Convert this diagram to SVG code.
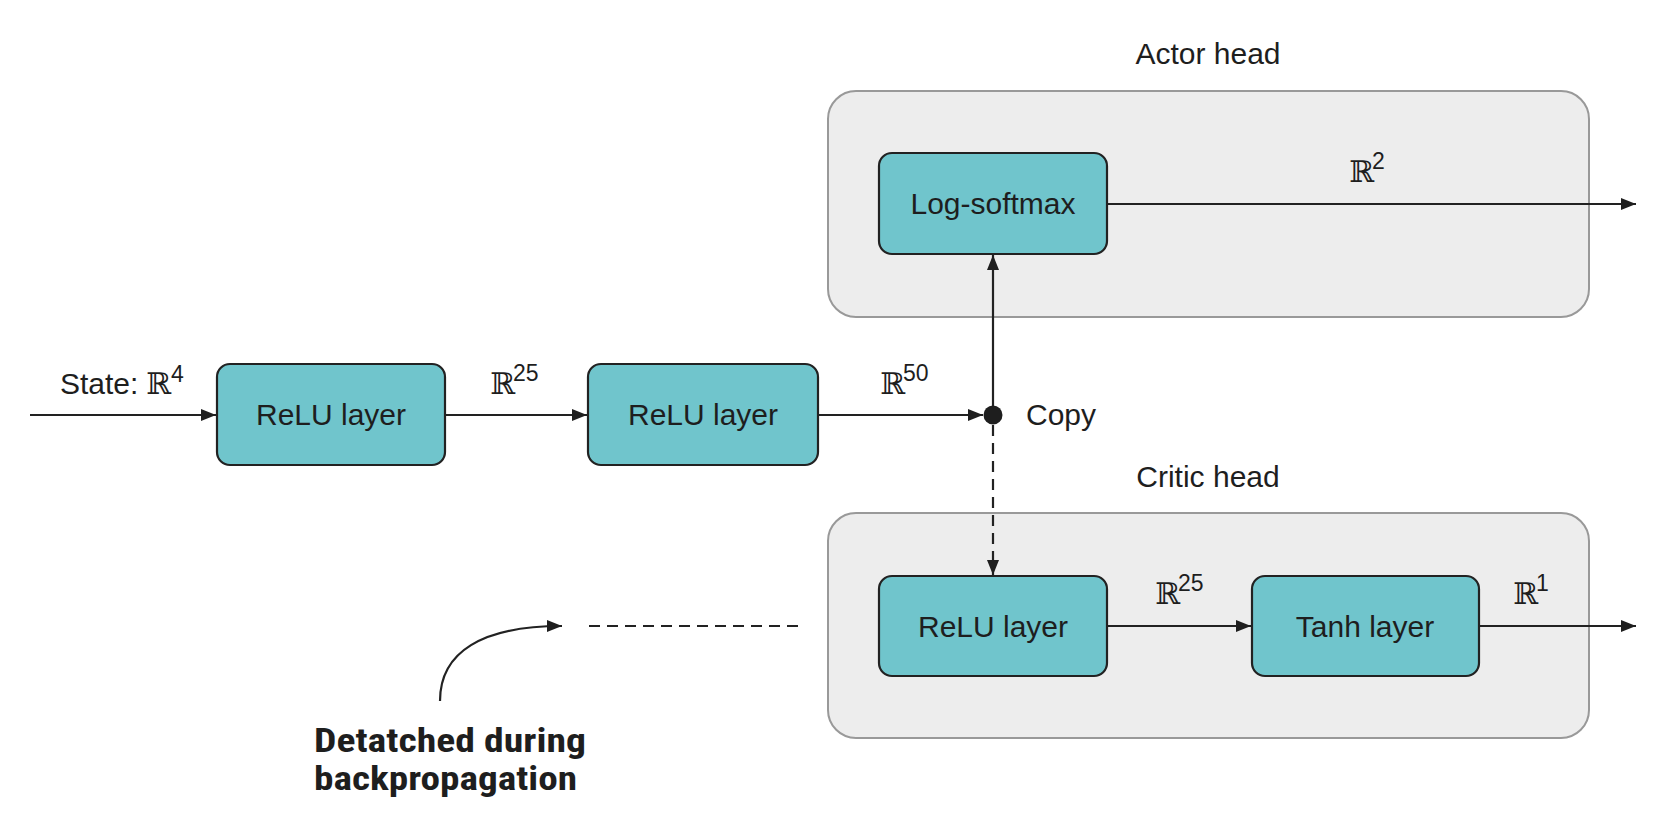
<svg xmlns="http://www.w3.org/2000/svg" width="1676" height="834" viewBox="0 0 1676 834">
<style>
.head{fill:#ededed;stroke:#999;stroke-width:2}
.layer{fill:#70c5cc;stroke:#222;stroke-width:2.2}
.lbl{font-family:"Liberation Sans",Arial,sans-serif;font-size:30px;fill:#1e1e1e}
.cen{text-anchor:middle}
.R{font-family:"DejaVu Serif",serif;font-size:30px;fill:#1e1e1e}
.sup{font-family:"Liberation Sans",Arial,sans-serif;font-size:23px;fill:#1e1e1e}
.ln{fill:none;stroke:#222;stroke-width:2.2}
.dash{stroke-dasharray:11 7}
.note{font-family:"Liberation Sans Narrow","Roboto Condensed","Liberation Sans",sans-serif;font-weight:bold;font-size:34px;fill:#1e1e1e}
</style>
<defs>
<marker id="ah" markerUnits="userSpaceOnUse" markerWidth="16" markerHeight="12" refX="15" refY="6" orient="auto">
<path d="M0,0 L15,6 L0,12 z" fill="#1e1e1e"/>
</marker>
</defs>

<g id="actor-head">
<rect class="head" x="828" y="91" width="761" height="226" rx="28"/>
<text class="lbl cen" x="1208" y="64">Actor head</text>
</g>
<g id="critic-head">
<rect class="head" x="828" y="513" width="761" height="225" rx="28"/>
<text class="lbl cen" x="1208" y="487">Critic head</text>
</g>

<g id="connectors">
<line class="ln" x1="30" y1="415" x2="216" y2="415" marker-end="url(#ah)"/>
<line class="ln" x1="445" y1="415" x2="587" y2="415" marker-end="url(#ah)"/>
<line class="ln" x1="818" y1="415" x2="983" y2="415" marker-end="url(#ah)"/>
<line class="ln" x1="993" y1="406" x2="993" y2="255" marker-end="url(#ah)"/>
<line class="ln dash" x1="993" y1="425" x2="993" y2="575" marker-end="url(#ah)"/>
<line class="ln" x1="1107" y1="204" x2="1636" y2="204" marker-end="url(#ah)"/>
<line class="ln" x1="1107" y1="626" x2="1251" y2="626" marker-end="url(#ah)"/>
<line class="ln" x1="1479" y1="626" x2="1636" y2="626" marker-end="url(#ah)"/>
<line class="ln dash" x1="589" y1="626" x2="805" y2="626"/>
<path class="ln" d="M440,701 C440,652 482,626 562,626" stroke-width="1.6" marker-end="url(#ah)"/>
<circle cx="993" cy="415" r="9.5" fill="#1e1e1e"/>
</g>

<g id="state-label">
<text class="lbl" x="60" y="394">State:</text>
<text class="R" x="146" y="394">ℝ</text>
<text class="sup" x="171" y="382">4</text>
</g>

<g id="relu1">
<rect class="layer" x="217" y="364" width="228" height="101" rx="13"/>
<text class="lbl cen" x="331" y="425">ReLU layer</text>
</g>
<g id="r25a">
<text class="R" x="490" y="394">ℝ</text>
<text class="sup" x="513" y="381">25</text>
</g>
<g id="relu2">
<rect class="layer" x="588" y="364" width="230" height="101" rx="13"/>
<text class="lbl cen" x="703" y="425">ReLU layer</text>
</g>
<g id="r50">
<text class="R" x="880" y="394">ℝ</text>
<text class="sup" x="903" y="381">50</text>
</g>
<g id="copy">
<text class="lbl" x="1026" y="425">Copy</text>
</g>

<g id="logsoftmax">
<rect class="layer" x="879" y="153" width="228" height="101" rx="13"/>
<text class="lbl cen" x="993" y="214">Log-softmax</text>
</g>
<g id="r2">
<text class="R" x="1349" y="182">ℝ</text>
<text class="sup" x="1372" y="169">2</text>
</g>

<g id="relu3">
<rect class="layer" x="879" y="576" width="228" height="100" rx="13"/>
<text class="lbl cen" x="993" y="637">ReLU layer</text>
</g>
<g id="r25b">
<text class="R" x="1155" y="604">ℝ</text>
<text class="sup" x="1178" y="591">25</text>
</g>
<g id="tanh">
<rect class="layer" x="1252" y="576" width="227" height="100" rx="13"/>
<text class="lbl cen" x="1365" y="637">Tanh layer</text>
</g>
<g id="r1">
<text class="R" x="1513" y="604">ℝ</text>
<text class="sup" x="1536" y="591">1</text>
</g>

<g id="note">
<text class="note" x="314" y="752" textLength="272" lengthAdjust="spacingAndGlyphs">Detatched during</text>
<text class="note" x="314" y="790" textLength="263" lengthAdjust="spacingAndGlyphs">backpropagation</text>
</g>
</svg>
